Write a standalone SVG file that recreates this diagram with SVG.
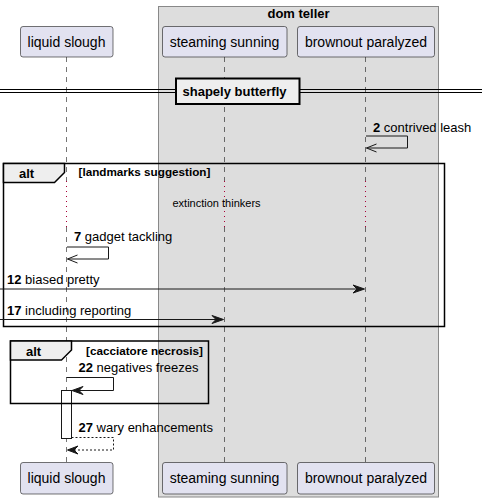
<svg xmlns="http://www.w3.org/2000/svg" width="482" height="504" viewBox="0 0 482 504">
<style>
text{font-family:"Liberation Sans",Arial,sans-serif;fill:#000}
.part{fill:#E2E2F0;stroke:#181818;stroke-width:0.6}
.pt{font-size:14px}
.life{stroke:#181818;stroke-width:0.6;stroke-dasharray:5,5;fill:none}
.delay{stroke:#A80036;stroke-width:1;stroke-dasharray:1,4;fill:none}
.msg{stroke:#181818;stroke-width:1;fill:none}
.dash{stroke-dasharray:2,2}
.head{fill:#181818;stroke:#181818;stroke-width:1}
.mt{font-size:13px}
.b{font-weight:bold}
.cond{font-size:11.7px;font-weight:bold}
.frame{fill:none;stroke:#000;stroke-width:1.5}
.tab{fill:#EEEEEE;stroke:#000;stroke-width:1.5}
</style>
<rect x="0" y="0" width="482" height="504" fill="#FFFFFF"/>
<g id="box-dom-teller">
<rect x="158.5" y="6.5" width="280" height="490.5" fill="#DDDDDD" stroke="#888888" stroke-width="1"/>
<text x="298.5" y="18" text-anchor="middle" class="mt b">dom teller</text>
</g>
<g id="lifelines">
<path class="life" d="M66.5,57 V181 M66.5,227 V462"/>
<path class="life" d="M224.5,57 V181 M224.5,227 V462"/>
<path class="life" d="M365.5,57 V181 M365.5,227 V462"/>
<path class="delay" d="M66.5,181 V227 M224.5,181 V227 M365.5,181 V227"/>
</g>
<g id="divider">
<path d="M0,89.5 H482 M0,92.5 H482" stroke="#000" stroke-width="1"/>
<rect x="176" y="78.5" width="123.5" height="25.5" fill="#EEEEEE" stroke="#000" stroke-width="2"/>
<text x="182.5" y="96" class="mt b">shapely butterfly</text>
</g>
<g id="p-liquid-slough-top">
<rect class="part" x="20.5" y="26.5" width="92.5" height="30.5" rx="2.5"/>
<text x="66.5" y="47" text-anchor="middle" class="pt">liquid slough</text>
</g>
<g id="p-steaming-sunning-top">
<rect class="part" x="162.5" y="26.5" width="124.5" height="30.5" rx="2.5"/>
<text x="224.5" y="47" text-anchor="middle" class="pt">steaming sunning</text>
</g>
<g id="p-brownout-paralyzed-top">
<rect class="part" x="297.5" y="26.5" width="137" height="30.5" rx="2.5"/>
<text x="366" y="47" text-anchor="middle" class="pt">brownout paralyzed</text>
</g>
<g id="p-liquid-slough-bottom">
<rect class="part" x="20.5" y="462.5" width="92.5" height="31.5" rx="2.5"/>
<text x="66.5" y="483" text-anchor="middle" class="pt">liquid slough</text>
</g>
<g id="p-steaming-sunning-bottom">
<rect class="part" x="162.5" y="462.5" width="124.5" height="31.5" rx="2.5"/>
<text x="224.5" y="483" text-anchor="middle" class="pt">steaming sunning</text>
</g>
<g id="p-brownout-paralyzed-bottom">
<rect class="part" x="297.5" y="462.5" width="137" height="31.5" rx="2.5"/>
<text x="366" y="483" text-anchor="middle" class="pt">brownout paralyzed</text>
</g>
<g id="activation">
<rect x="61.5" y="390.5" width="10" height="48" fill="#FFFFFF" stroke="#181818" stroke-width="1"/>
</g>
<g id="alt1">
<rect class="frame" x="3.5" y="163.5" width="441" height="163"/>
<path class="tab" d="M3.5,163.5 H64.5 V172.5 L54.5,182.5 H3.5 Z"/>
<text x="19" y="177.5" class="mt b">alt</text>
<text x="78.5" y="176" class="cond">[landmarks suggestion]</text>
</g>
<g id="alt2">
<rect class="frame" x="10.5" y="341" width="198" height="62.5"/>
<path class="tab" d="M10.5,341 H71.5 V350 L61.5,360 H10.5 Z"/>
<text x="26" y="356" class="mt b">alt</text>
<text x="86" y="354.5" class="cond">[cacciatore necrosis]</text>
</g>
<g id="delay-label">
<text x="172.5" y="207" font-size="11">extinction thinkers</text>
</g>
<g id="connectors">
<path class="msg" d="M366,136 H407.5 V148 H366.5"/>
<path class="msg" d="M376.5,144 L366.5,148 L376.5,152"/>
<text x="373" y="131.5" class="mt"><tspan class="b">2</tspan> contrived leash</text>
<path class="msg" d="M67,247 H108.5 V259 H67.5"/>
<path class="msg" d="M77.5,255 L67.5,259 L77.5,263"/>
<text x="74" y="241" class="mt"><tspan class="b">7</tspan> gadget tackling</text>
<path class="msg" d="M0,289 H363"/>
<polygon class="head" points="353,285 364.5,289 353,293 357,289"/>
<text x="7" y="284" class="mt"><tspan class="b">12</tspan> biased pretty</text>
<path class="msg" d="M0,319.5 H222"/>
<polygon class="head" points="212,315.5 223.5,319.5 212,323.5 216,319.5"/>
<text x="7" y="315" class="mt"><tspan class="b">17</tspan> including reporting</text>
<path class="msg" d="M66.5,377.5 H113.5 V390.5 H74"/>
<polygon class="head" points="83,386.5 72,390.5 83,394.5 79,390.5"/>
<text x="78.5" y="372" class="mt"><tspan class="b">22</tspan> negatives freezes</text>
<path class="msg dash" d="M71.5,437.5 H113.5 V450 H69"/>
<polygon class="head" points="78,446 67.5,450 78,454 74,450"/>
<text x="78.5" y="432" class="mt"><tspan class="b">27</tspan> wary enhancements</text>
</g>
</svg>
